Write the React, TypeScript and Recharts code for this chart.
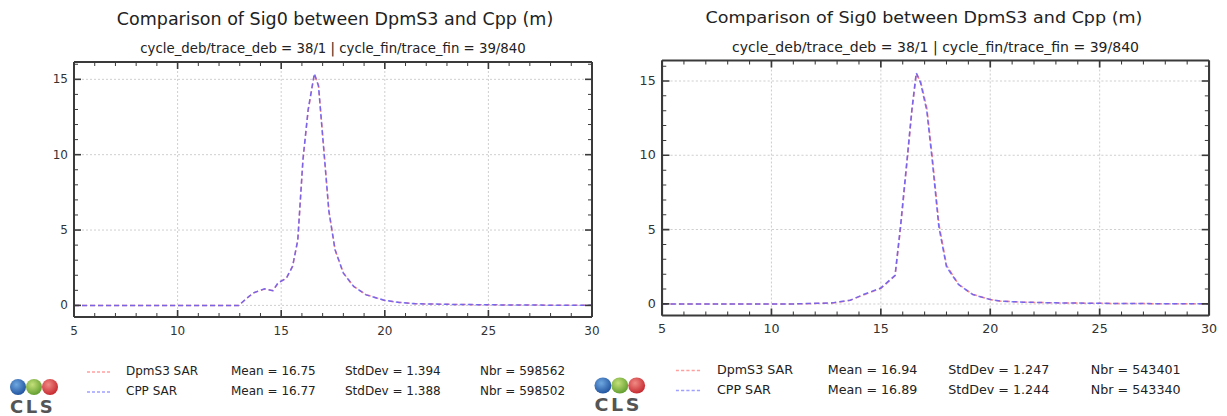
import { LineChart, Line, XAxis, YAxis, ReferenceLine } from "recharts";

// ---- data ----
const xTicks = [5, 6, 7, 8, 9, 10, 11, 12, 13, 14, 15, 16, 17, 18, 19, 20, 21, 22, 23, 24, 25, 26, 27, 28, 29, 30];
const yTicks = [0, 1, 2, 3, 4, 5, 6, 7, 8, 9, 10, 11, 12, 13, 14, 15, 16];
const majorX = [5, 10, 15, 20, 25, 30];
const majorY = [0, 5, 10, 15];

const titleText = "Comparison of Sig0 between DpmS3 and Cpp (m)";
const subtitleText = "cycle_deb/trace_deb = 38/1 | cycle_fin/trace_fin = 39/840";
const seriesNames = ["DpmS3 SAR", "CPP SAR"];

// left panel
const leftX = [5, 7, 9, 11, 12.95, 13.3, 13.65, 14.2, 14.6, 14.85, 15.25, 15.55, 15.8, 16.05, 16.3, 16.6, 16.8, 17.05, 17.3, 17.6, 18.0, 18.5, 19.1, 20.0, 20.7, 21.5, 23, 25, 27, 30];
const leftDpm = [0, 0, 0, 0, 0, 0.42, 0.82, 1.09, 0.97, 1.48, 1.81, 2.59, 4.3, 9.6, 12.9, 15.35, 14.6, 10.5, 6.3, 3.7, 2.15, 1.26, 0.71, 0.33, 0.2, 0.11, 0.07, 0.04, 0.02, 0.01];
const leftCpp = [0, 0, 0, 0, 0, 0.43, 0.83, 1.1, 0.98, 1.5, 1.8, 2.6, 4.35, 9.7, 13.0, 15.38, 14.55, 10.4, 6.25, 3.68, 2.14, 1.25, 0.7, 0.33, 0.2, 0.11, 0.07, 0.04, 0.02, 0.01];
const leftStats = [
  { mean: "16.75", std: "1.394", nbr: "598562" },
  { mean: "16.77", std: "1.388", nbr: "598502" },
];
const leftDomain = [-0.77, 16.15];

// right panel
const rightX = [5, 8, 11, 12.8, 13.6, 14.2, 15.0, 15.65, 15.9, 16.2, 16.42, 16.62, 16.82, 17.1, 17.35, 17.65, 18.0, 18.55, 19.2, 20.0, 20.5, 21.5, 23, 25, 27, 30];
const rightDpm = [0, 0, 0, 0.06, 0.24, 0.6, 1.05, 1.9, 5.1, 9.6, 13.0, 15.5, 14.95, 13.2, 9.9, 5.4, 2.6, 1.32, 0.64, 0.3, 0.18, 0.12, 0.07, 0.04, 0.02, 0.01];
const rightCpp = [0, 0, 0, 0.07, 0.25, 0.63, 1.07, 1.92, 5.25, 9.75, 13.1, 15.55, 14.85, 13.0, 9.65, 5.2, 2.5, 1.3, 0.63, 0.29, 0.18, 0.12, 0.07, 0.04, 0.02, 0.01];
const rightStats = [
  { mean: "16.94", std: "1.247", nbr: "543401" },
  { mean: "16.89", std: "1.244", nbr: "543340" },
];
const rightDomain = [-0.78, 16.38];

const FONT = "'DejaVu Sans', sans-serif";
const FRAME = "#3a3a3a";
const RED = "#ff6a6a";
const BLUE = "#5a5aff";

const toPoints = (xs: number[], ys: number[]) => xs.map((x, i) => ({ x, y: ys[i] }));

const BottomTick = (props: any) => {
  const { x, y, payload } = props;
  const major = payload.value % 5 === 0;
  return (
    <g>
      <line x1={x} x2={x} y1={y} y2={y - (major ? 7 : 4)} stroke={FRAME} strokeWidth={major ? 1.6 : 1} />
      {major && (
        <text x={x} y={y + 18} textAnchor="middle" fontSize={12} fontFamily={FONT} fill="#333">
          {payload.value}
        </text>
      )}
    </g>
  );
};

const TopTick = (props: any) => {
  const { x, y, payload } = props;
  const major = payload.value % 5 === 0;
  return <line x1={x} x2={x} y1={y} y2={y + (major ? 7 : 4)} stroke={FRAME} strokeWidth={major ? 1.6 : 1} />;
};

const LeftTick = (props: any) => {
  const { x, y, payload } = props;
  const major = payload.value % 5 === 0;
  return (
    <g>
      <line x1={x} x2={x + (major ? 7 : 4)} y1={y} y2={y} stroke={FRAME} strokeWidth={major ? 1.6 : 1} />
      {major && (
        <text x={x - 6} y={y + 4} textAnchor="end" fontSize={12} fontFamily={FONT} fill="#333">
          {payload.value}
        </text>
      )}
    </g>
  );
};

const RightTick = (props: any) => {
  const { x, y, payload } = props;
  const major = payload.value % 5 === 0;
  return <line x1={x} x2={x - (major ? 7 : 4)} y1={y} y2={y} stroke={FRAME} strokeWidth={major ? 1.6 : 1} />;
};

const Logo = ({ id }: { id: string }) => (
  <svg width={52} height={42} style={{ position: "absolute", left: 8, top: 375 }}>
    <defs>
      <radialGradient id={`gb${id}`} cx="40%" cy="35%" r="70%">
        <stop offset="0%" stopColor="#6fa8e0" />
        <stop offset="100%" stopColor="#1d4f9c" />
      </radialGradient>
      <radialGradient id={`gg${id}`} cx="40%" cy="35%" r="70%">
        <stop offset="0%" stopColor="#c5e07a" />
        <stop offset="100%" stopColor="#5d9b2c" />
      </radialGradient>
      <radialGradient id={`gr${id}`} cx="40%" cy="35%" r="70%">
        <stop offset="0%" stopColor="#f08a84" />
        <stop offset="100%" stopColor="#c4242b" />
      </radialGradient>
    </defs>
    <circle cx={10} cy={12} r={8} fill={`url(#gb${id})`} />
    <circle cx={26} cy={12} r={8} fill={`url(#gg${id})`} />
    <circle cx={42} cy={12} r={8} fill={`url(#gr${id})`} />
    <text x={2} y={38} fontSize={18} fontWeight="bold" fontFamily={FONT} fill="#555" letterSpacing={2.5}>
      CLS
    </text>
  </svg>
);

interface PanelProps {
  id: string;
  xs: number[];
  dpm: number[];
  cpp: number[];
  domain: number[];
  stats: { mean: string; std: string; nbr: string }[];
  titleShift: number;
  titleSize: number;
  style: React.CSSProperties;
}

const Panel = ({ id, xs, dpm, cpp, domain, stats, titleShift, titleSize, style }: PanelProps) => {
  const dpmData = toPoints(xs, dpm);
  const cppData = toPoints(xs, cpp);
  return (
    <div style={{ position: "absolute", width: 620, height: 416, fontFamily: FONT, ...style }}>
      <div style={{ position: "absolute", left: 74 + titleShift, width: 518, top: 9, textAlign: "center", fontSize: titleSize, color: "#222", whiteSpace: "nowrap" }}>
        {titleText}
      </div>
      <div style={{ position: "absolute", left: 74, width: 518, top: 41, textAlign: "center", fontSize: 13.3, color: "#222", whiteSpace: "nowrap" }}>
        {subtitleText}
      </div>
      <div style={{ position: "absolute", left: 0, top: 0 }}>
        <LineChart width={620} height={345} margin={{ top: 61, right: 27, bottom: 0, left: 73 }}>
          <XAxis xAxisId="b" dataKey="x" type="number" domain={[5, 30]} ticks={xTicks} interval={0}
            allowDataOverflow tickSize={0} tickMargin={0} height={28}
            axisLine={{ stroke: FRAME, strokeWidth: 2 }} tickLine={false} tick={<BottomTick />} />
          <XAxis xAxisId="t" orientation="top" dataKey="x" type="number" domain={[5, 30]} ticks={xTicks} interval={0}
            allowDataOverflow tickSize={0} tickMargin={0} height={1}
            axisLine={{ stroke: FRAME, strokeWidth: 2 }} tickLine={false} tick={<TopTick />} />
          <YAxis yAxisId="l" type="number" domain={domain} ticks={yTicks} interval={0} allowDataOverflow
            tickSize={0} tickMargin={0} width={1}
            axisLine={{ stroke: FRAME, strokeWidth: 2 }} tickLine={false} tick={<LeftTick />} />
          <YAxis yAxisId="r" orientation="right" type="number" domain={domain} ticks={yTicks} interval={0} allowDataOverflow
            tickSize={0} tickMargin={0} width={1}
            axisLine={{ stroke: FRAME, strokeWidth: 2 }} tickLine={false} tick={<RightTick />} />
          {majorX.slice(1, -1).map((v) => (
            <ReferenceLine key={`gx${v}`} xAxisId="b" yAxisId="l" x={v} stroke="#cfcfcf" strokeDasharray="2 2" />
          ))}
          {majorY.map((v) => (
            <ReferenceLine key={`gy${v}`} xAxisId="b" yAxisId="l" y={v} stroke="#cfcfcf" strokeDasharray="2 2" />
          ))}
          <Line xAxisId="b" yAxisId="l" data={dpmData} dataKey="y" type="linear" stroke={RED} strokeOpacity={0.8}
            strokeWidth={1.5} strokeDasharray="5 3" dot={false} isAnimationActive={false} />
          <Line xAxisId="b" yAxisId="l" data={cppData} dataKey="y" type="linear" stroke={BLUE} strokeOpacity={0.8}
            strokeWidth={1.5} strokeDasharray="5 3" dot={false} isAnimationActive={false} />
        </LineChart>
      </div>
      {stats.map((s, i) => (
        <div key={i} style={{ position: "absolute", top: 364 + i * 20, left: 0, fontSize: 12, color: "#222", whiteSpace: "nowrap" }}>
          <svg width={24} height={4} style={{ position: "absolute", left: 87, top: 6 }}>
            <line x1={0} x2={24} y1={2} y2={2} stroke={i === 0 ? "#ffa0a0" : "#a0a0ff"} strokeWidth={1.5} strokeDasharray="3 2" />
          </svg>
          <span style={{ position: "absolute", left: 126 }}>{seriesNames[i]}</span>
          <span style={{ position: "absolute", left: 231 }}>Mean = {s.mean}</span>
          <span style={{ position: "absolute", left: 345 }}>StdDev = {s.std}</span>
          <span style={{ position: "absolute", left: 480 }}>Nbr = {s.nbr}</span>
        </div>
      ))}
      <Logo id={id} />
    </div>
  );
};

export default function App() {
  return (
    <div style={{ position: "absolute", left: 0, top: 0, width: 1227, height: 416, background: "#fff", overflow: "hidden" }}>
      <Panel id="a" xs={leftX} dpm={leftDpm} cpp={leftCpp} domain={leftDomain} stats={leftStats} titleShift={2} titleSize={17.5}
        style={{ left: 0, top: 0 }} />
      <Panel id="b" xs={rightX} dpm={rightDpm} cpp={rightCpp} domain={rightDomain} stats={rightStats} titleShift={-11} titleSize={16.6}
        style={{ left: 0, top: 0, transform: "translate(583.9px, -1.5px) scaleX(1.056)", transformOrigin: "0 0" }} />
    </div>
  );
}
